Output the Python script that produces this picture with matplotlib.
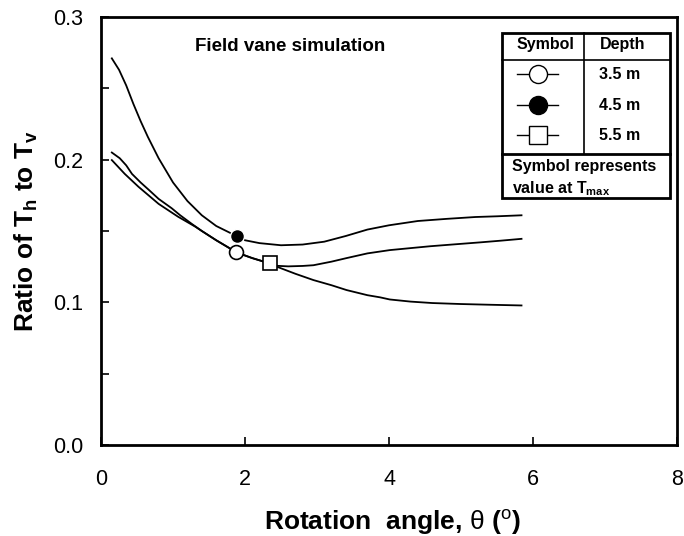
import numpy as np
import matplotlib.pyplot as plt
from matplotlib.patches import Rectangle
from matplotlib.ticker import MultipleLocator

plt.rcParams['font.family'] = ['Liberation Sans', 'DejaVu Sans']
plt.rcParams['mathtext.fontset'] = 'custom'
plt.rcParams['mathtext.rm'] = 'Liberation Sans'
plt.rcParams['mathtext.bf'] = 'Liberation Sans:bold'
plt.rcParams['mathtext.it'] = 'Liberation Sans:italic'

# curva 4.5 m (quella in alto)
x_45 = [0.15, 0.25, 0.35, 0.45, 0.55, 0.65, 0.8, 1.0, 1.2, 1.4, 1.6, 1.8, 1.9,
        2.0, 2.2, 2.5, 2.8, 3.1, 3.4, 3.7, 4.0, 4.4, 4.8, 5.2, 5.5, 5.84]
y_45 = [0.271, 0.263, 0.252, 0.239, 0.227, 0.216, 0.201, 0.184, 0.171, 0.161, 0.1535, 0.1485, 0.146,
        0.1435, 0.1415, 0.1400, 0.1405, 0.1425, 0.1465, 0.151, 0.154, 0.157, 0.1585, 0.1598, 0.1603, 0.161]

# curva 3.5 m
x_35 = [0.15, 0.26, 0.35, 0.43, 0.55, 0.66, 0.8, 0.98, 1.1, 1.26, 1.4, 1.6, 1.75, 1.88,
        2.1, 2.34, 2.44, 2.7, 2.95, 3.2, 3.41, 3.7, 3.875, 4.01, 4.3, 4.6, 5.0, 5.4, 5.84]
y_35 = [0.205, 0.201, 0.196, 0.190, 0.184, 0.179, 0.1725, 0.166, 0.161, 0.155, 0.150, 0.1435, 0.139, 0.135,
        0.131, 0.1273, 0.125, 0.120, 0.1156, 0.112, 0.1086, 0.105, 0.1035, 0.102, 0.1005, 0.0995, 0.0988, 0.0983, 0.0978]

# curva 5.5 m
x_55 = [0.15, 0.33, 0.52, 0.8, 1.07, 1.31, 1.4, 1.6, 1.75, 1.88, 2.1, 2.34,
        2.44, 2.6, 2.8, 2.95, 3.2, 3.41, 3.7, 3.875, 4.01, 4.3, 4.57, 4.9, 5.26, 5.55, 5.84]
y_55 = [0.1997, 0.190, 0.181, 0.169, 0.160, 0.153, 0.150, 0.1435, 0.139, 0.135, 0.131, 0.1273,
        0.1256, 0.1252, 0.1255, 0.126, 0.1285, 0.131, 0.1343, 0.1356, 0.1366, 0.138, 0.1393, 0.1406, 0.142, 0.1432, 0.1445]

# valori a T max
tmax_x = [1.88, 1.89, 2.34]
tmax_y = [0.135, 0.1462, 0.1273]
profondita = ['3.5 m', '4.5 m', '5.5 m']

fig = plt.figure(figsize=(6.84, 5.36), dpi=100)
ax = fig.add_axes([0.1477, 0.1698, 0.8421, 0.7985])

ax.plot(x_35, y_35, color='black', lw=1.3)
ax.plot(x_45, y_45, color='black', lw=1.3)
ax.plot(x_55, y_55, color='black', lw=1.3)

ax.plot(tmax_x[0], tmax_y[0], 'o', ms=10, mfc='white', mec='black', mew=1.2, zorder=5)
ax.plot(tmax_x[1], tmax_y[1], 'o', ms=10, mfc='black', mec='white', mew=1.0, zorder=5)
ax.plot(tmax_x[2], tmax_y[2], 's', ms=10, mfc='white', mec='black', mew=1.2, zorder=5)

ax.set_xlim(0, 8)
ax.set_ylim(0, 0.3)
ax.set_xticks([0, 2, 4, 6, 8])
ax.yaxis.set_major_locator(MultipleLocator(0.1))
ax.yaxis.set_minor_locator(MultipleLocator(0.05))
ax.yaxis.set_major_formatter(plt.FormatStrFormatter('%.1f'))
ax.tick_params(which='both', direction='in', length=6, width=1.2, labelsize=15.5)
ax.tick_params(axis='x', pad=17)
ax.tick_params(axis='y', pad=13)
for s in ax.spines.values():
    s.set_linewidth(2)

ax.set_xlabel(r'Rotation  angle, $\mathrm{\theta}$ ($^{\rm o}$)', fontsize=19, fontweight='bold', va='center')
ax.xaxis.set_label_coords(0.506, -0.182)
ax.set_ylabel(r'Ratio of T$_\mathbf{h}$ to T$_\mathbf{v}$', fontsize=19, fontweight='bold', va='center')
ax.yaxis.set_label_coords(-0.13, 0.5)

ax.text(0.328, 0.93, 'Field vane simulation', transform=ax.transAxes, fontsize=13.5,
        fontweight='bold', ha='center', va='center')

# tabella della legenda
tr = ax.transAxes
ax.add_patch(Rectangle((0.696, 0.577), 0.292, 0.3863, transform=tr, fill=True,
                       fc='white', ec='black', lw=2, zorder=6))
ax.plot([0.696, 0.988], [0.8995, 0.8995], transform=tr, color='black', lw=1.2, zorder=7)
ax.plot([0.696, 0.988], [0.679, 0.679], transform=tr, color='black', lw=2, zorder=7)
ax.plot([0.839, 0.839], [0.679, 0.9633], transform=tr, color='black', lw=1.2, zorder=7)
ax.text(0.771, 0.935, 'Symbol', transform=tr, fontsize=11.5, fontweight='bold',
        ha='center', va='center', zorder=8)
ax.text(0.906, 0.935, 'Depth', transform=tr, fontsize=11.5, fontweight='bold',
        ha='center', va='center', zorder=8)
righe = [0.866, 0.794, 0.724]
stili = [('o', 'white'), ('o', 'black'), ('s', 'white')]
for i in range(3):
    ax.plot([0.722, 0.794], [righe[i], righe[i]], transform=tr, color='black', lw=1, zorder=7)
    ax.plot([0.758], [righe[i]], stili[i][0], transform=tr, ms=13, mfc=stili[i][1],
            mec='black', mew=1, zorder=8)
    ax.text(0.865, righe[i], profondita[i], transform=tr, fontsize=11.5, fontweight='bold',
            ha='left', va='center', zorder=8)
ax.text(0.713, 0.650, 'Symbol represents', transform=tr, fontsize=11.5, fontweight='bold',
        ha='left', va='center', zorder=8)
ax.text(0.713, 0.598, r'value at T$_\mathbf{max}$', transform=tr, fontsize=11.5, fontweight='bold',
        ha='left', va='center', zorder=8)

fig.savefig('out.png', dpi=100)
